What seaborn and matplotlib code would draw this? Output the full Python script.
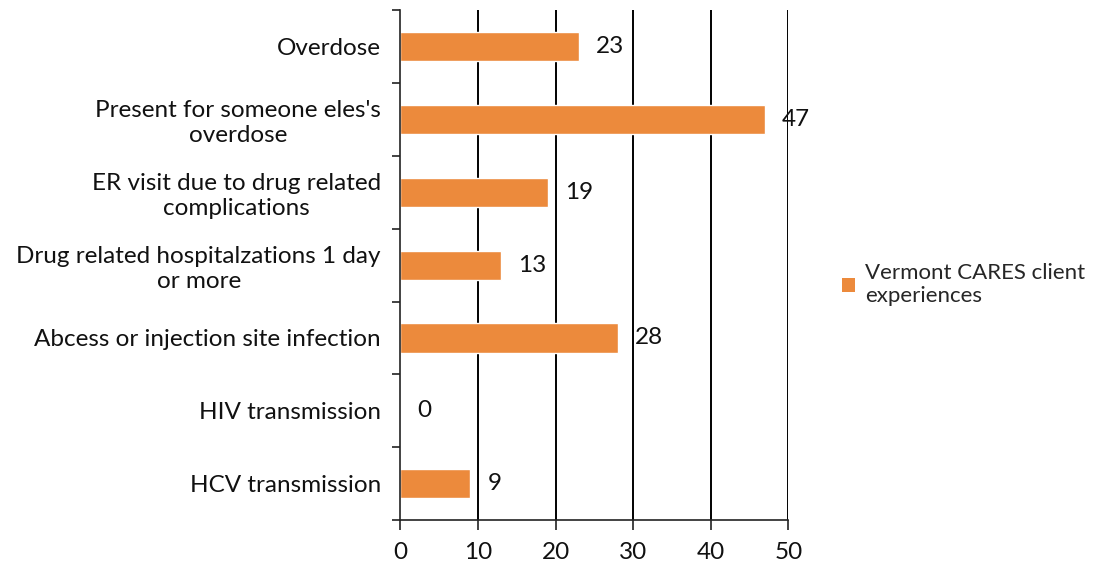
import matplotlib
matplotlib.use("Agg")
import matplotlib.pyplot as plt
import seaborn as sns
import pandas as pd
from matplotlib.patches import Patch

categories = [
    "Overdose",
    "Present for someone eles's\noverdose",
    "ER visit due to drug related\ncomplications",
    "Drug related hospitalzations 1 day\nor more",
    "Abcess or injection site infection",
    "HIV transmission",
    "HCV transmission",
]
values = [23, 47, 19, 13, 28, 0, 9]
series_name = "Vermont CARES client\nexperiences"
x_ticks = [0, 10, 20, 30, 40, 50]

bar_color = "#EC8A3C"
font_size = 17.5

sns.set_style("white")
plt.rcParams["font.family"] = ["Lato", "DejaVu Sans"]

df = pd.DataFrame({"category": categories, "value": values})

fig = plt.figure(figsize=(11.12, 5.69), dpi=100)
ax = fig.add_axes([0.36, 0.086, 0.349, 0.896])

sns.barplot(data=df, x="value", y="category", color=bar_color, width=0.4,
            saturation=1, ax=ax, orient="h")

ax.set_xlim(0, 50)
ax.set_ylim(len(categories) - 0.5, -0.5)
ax.set_xticks(x_ticks)
ax.set_xlabel("")
ax.set_ylabel("")

# vertical gridlines
for t in x_ticks[1:]:
    ax.axvline(t, color="black", lw=1.4, zorder=0)

for side in ["top", "right"]:
    ax.spines[side].set_visible(False)
for side in ["left", "bottom"]:
    ax.spines[side].set_visible(True)
    ax.spines[side].set_color("#222222")
    ax.spines[side].set_linewidth(1.2)

# category labels centered between boundary ticks
ax.tick_params(axis="y", which="major", left=False, length=0, pad=14,
               labelsize=font_size, labelcolor="#111111")
for lbl in ax.get_yticklabels():
    lbl.set_multialignment("center")
ax.set_yticks([i - 0.5 for i in range(len(categories) + 1)], minor=True)
ax.tick_params(axis="y", which="minor", left=True, length=6, width=1.2,
               color="#222222", direction="out")
ax.tick_params(axis="x", which="major", bottom=True, length=7, width=1.2,
               color="#222222", direction="out",
               labelsize=font_size, labelcolor="#111111", pad=9)

# value labels
for i, v in enumerate(values):
    ax.text(v + 2.2, i, str(v), va="center", ha="left", fontsize=font_size, color="#111111")

handles = [Patch(facecolor=bar_color, edgecolor="none")]
fig.legend(handles, [series_name], loc="center left", bbox_to_anchor=(0.749, 0.5),
           frameon=False, fontsize=16, handlelength=0.6, handleheight=0.6,
           handletextpad=0.45, borderaxespad=0.0)

fig.savefig("out.png", dpi=100, facecolor="white")
